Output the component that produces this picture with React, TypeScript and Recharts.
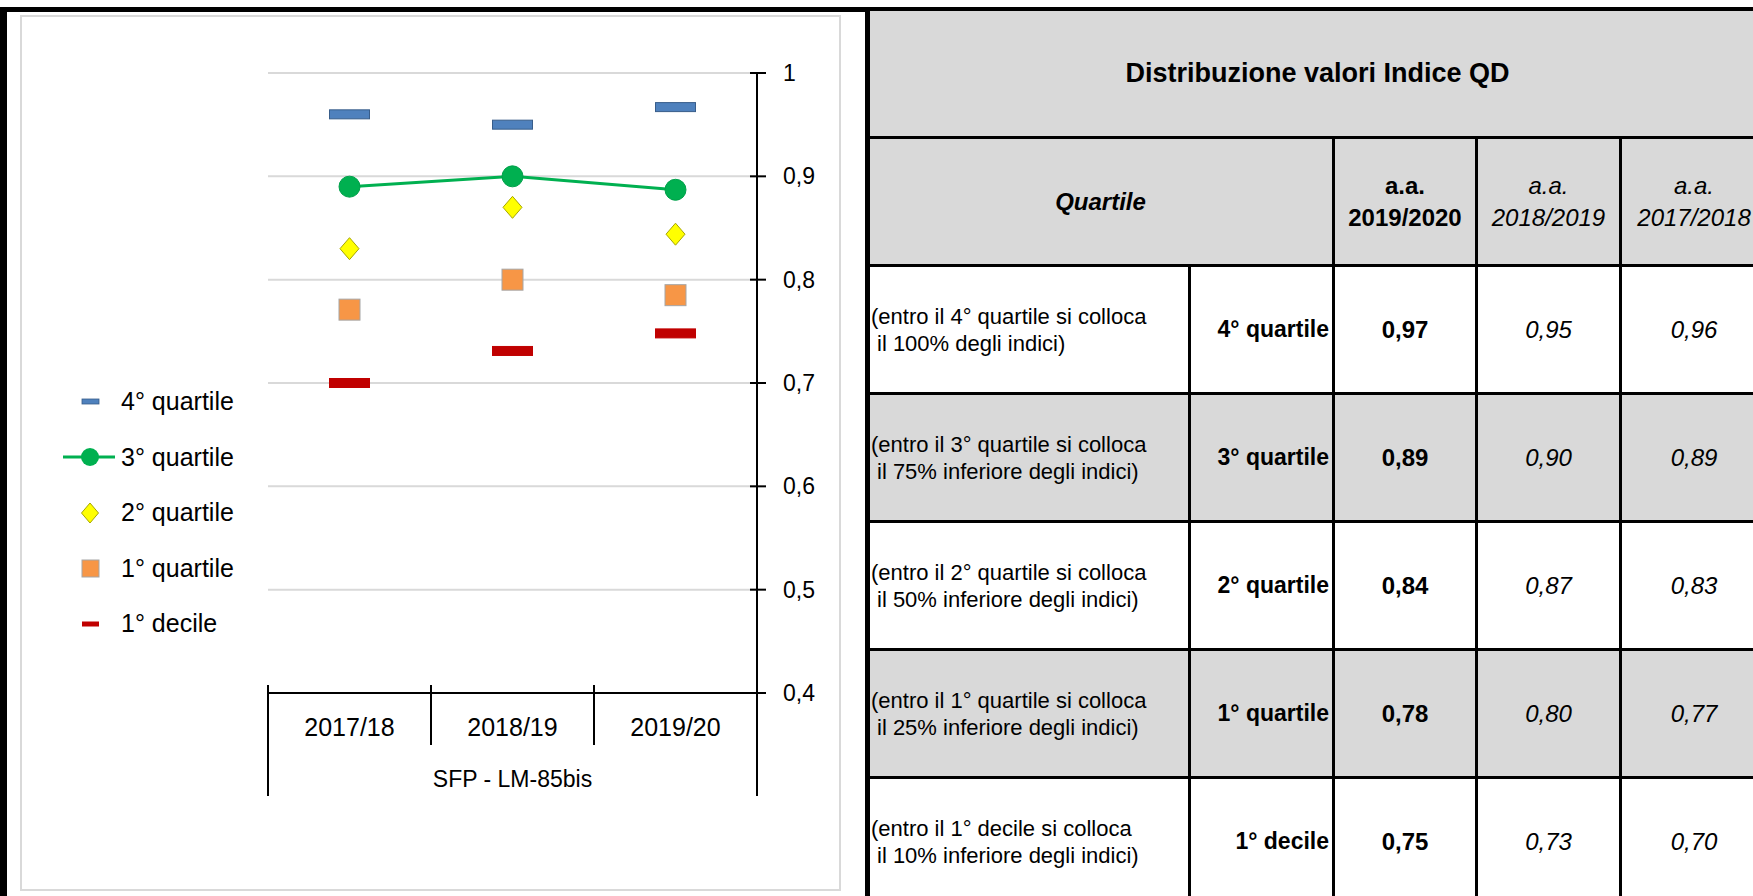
import React from 'react';
import { ComposedChart, Line, XAxis, YAxis, CartesianGrid, Legend } from 'recharts';

const FONT = "'Liberation Sans', Arial, sans-serif";

// chart data
const categories = ['2017/18', '2018/19', '2019/20'];
const quartile4 = [0.96, 0.95, 0.967];
const quartile3 = [0.89, 0.9, 0.887];
const quartile2 = [0.83, 0.87, 0.844];
const quartile1 = [0.771, 0.8, 0.785];
const decile1 = [0.7, 0.731, 0.748];
const yTicks = [0.4, 0.5, 0.6, 0.7, 0.8, 0.9, 1];
const groupLabel = 'SFP - LM-85bis';

// table data
const tableTitle = 'Distribuzione valori Indice QD';
const yearHeaders = ['2019/2020', '2018/2019', '2017/2018'];
const rowLabels = ['4° quartile', '3° quartile', '2° quartile', '1° quartile', '1° decile'];
const rowNotes = [
  ['(entro il 4° quartile si colloca', 'il 100% degli indici)'],
  ['(entro il 3° quartile si colloca', 'il 75% inferiore degli indici)'],
  ['(entro il 2° quartile si colloca', 'il 50% inferiore degli indici)'],
  ['(entro il 1° quartile si colloca', 'il 25% inferiore degli indici)'],
  ['(entro il 1° decile si colloca', 'il 10% inferiore degli indici)'],
];
const values1920 = [0.97, 0.89, 0.84, 0.78, 0.75];
const values1819 = [0.95, 0.9, 0.87, 0.8, 0.73];
const values1718 = [0.96, 0.89, 0.83, 0.77, 0.7];

const data = categories.map((year, i) => ({
  year,
  q4: quartile4[i],
  q3: quartile3[i],
  q2: quartile2[i],
  q1: quartile1[i],
  d1: decile1[i],
}));

const comma = (v: number, digits?: number) =>
  (digits != null ? v.toFixed(digits) : String(v)).replace('.', ',');

// chart box inside the grey frame
const CHART_W = 821;
const CHART_H = 876;
const MARGIN = { top: 58, right: 25, bottom: 88, left: 247 };

const dashDot = (fill: string, stroke: string) => (p: any) => {
  if (p.cx == null || p.cy == null) return <g key={`e-${p.index}`} />;
  return (
    <rect key={`${p.dataKey}-${p.index}`} x={p.cx - 20} y={p.cy - 4.5} width={40} height={9}
      fill={fill} stroke={stroke} strokeWidth={1} />
  );
};

const circleDot = (p: any) => {
  if (p.cx == null || p.cy == null) return <g key={`e-${p.index}`} />;
  return <circle key={`q3-${p.index}`} cx={p.cx} cy={p.cy} r={10.5} fill="#00B050" stroke="#00A04A" strokeWidth={1} />;
};

const diamondDot = (p: any) => {
  if (p.cx == null || p.cy == null) return <g key={`e-${p.index}`} />;
  const { cx, cy } = p;
  return (
    <path key={`q2-${p.index}`} d={`M${cx},${cy - 11} L${cx + 9.5},${cy} L${cx},${cy + 11} L${cx - 9.5},${cy} Z`}
      fill="#FFFF00" stroke="#A6A600" strokeWidth={1} />
  );
};

const squareDot = (p: any) => {
  if (p.cx == null || p.cy == null) return <g key={`e-${p.index}`} />;
  return (
    <rect key={`q1-${p.index}`} x={p.cx - 10.5} y={p.cy - 10.5} width={21} height={21}
      fill="#F79646" stroke="#A6A6A6" strokeWidth={1} />
  );
};

const series = [
  { key: 'q4', name: '4° quartile' },
  { key: 'q3', name: '3° quartile' },
  { key: 'q2', name: '2° quartile' },
  { key: 'q1', name: '1° quartile' },
  { key: 'd1', name: '1° decile' },
];

const legendMarker = (key: string) => {
  switch (key) {
    case 'q4':
      return <rect x={21} y={12} width={17} height={5} fill="#4F81BD" stroke="#385D8A" strokeWidth={0.8} />;
    case 'q3':
      return (
        <g>
          <line x1={2} x2={54} y1={15} y2={15} stroke="#00B050" strokeWidth={3} />
          <circle cx={29} cy={15} r={9} fill="#00B050" />
        </g>
      );
    case 'q2':
      return <path d="M29,5 L37.5,15 L29,25 L20.5,15 Z" fill="#FFFF00" stroke="#A6A600" strokeWidth={1} />;
    case 'q1':
      return <rect x={21} y={7} width={17} height={17} fill="#F79646" stroke="#A6A6A6" strokeWidth={1} />;
    default:
      return <rect x={21} y={12.5} width={17} height={5} fill="#C00000" />;
  }
};

const LegendBox = () => (
  <div style={{ fontFamily: FONT, fontSize: 25, color: '#000' }}>
    {series.map((s) => (
      <div key={s.key} style={{ height: 55.5, display: 'flex', alignItems: 'center' }}>
        <svg width={60} height={30} style={{ flex: 'none' }}>{legendMarker(s.key)}</svg>
        <span style={{ whiteSpace: 'nowrap' }}>{s.name}</span>
      </div>
    ))}
  </div>
);

const XTick = (props: any) => {
  const { x, y, payload, index, width, visibleTicksCount } = props;
  const count = visibleTicksCount || categories.length;
  const bw = payload && payload.offset > 0 ? payload.offset * 2 : width / count;
  const left = x - bw / 2;
  const right = x + bw / 2;
  const center = x + (count / 2 - index - 0.5) * bw;
  return (
    <g>
      <line x1={left} x2={left} y1={y - 8} y2={y + (index === 0 ? 103 : 52)} stroke="#000" strokeWidth={2} />
      {index === count - 1 && (
        <line x1={right} x2={right} y1={y - 8} y2={y + 103} stroke="#000" strokeWidth={2} />
      )}
      <text x={x} y={y + 34} textAnchor="middle" dominantBaseline="central" fontSize={25} fill="#000" fontFamily={FONT}>
        {payload.value}
      </text>
      {index === 0 && (
        <text x={center} y={y + 86} textAnchor="middle" dominantBaseline="central" fontSize={23} fill="#000" fontFamily={FONT}>
          {groupLabel}
        </text>
      )}
    </g>
  );
};

const YTick = (props: any) => {
  const { x, y, payload } = props;
  return (
    <g>
      <line x1={x - 7} x2={x + 9} y1={y} y2={y} stroke="#000" strokeWidth={2} />
      <text x={x + 26} y={y} dominantBaseline="central" fontSize={23} fill="#000" fontFamily={FONT}>
        {comma(payload.value)}
      </text>
    </g>
  );
};

const Chart = () => (
  <ComposedChart width={CHART_W} height={CHART_H} data={data} margin={MARGIN}>
    <CartesianGrid vertical={false} stroke="#D9D9D9" strokeWidth={2} />
    <XAxis dataKey="year" scale="band" interval={0} tickLine={false} tickSize={0} tickMargin={0}
      axisLine={{ stroke: '#000', strokeWidth: 2 }} height={110} tick={<XTick />} />
    <YAxis orientation="right" domain={[0.4, 1]} ticks={yTicks} interval={0} tickLine={false} tickSize={0}
      tickMargin={0} width={60} axisLine={{ stroke: '#000', strokeWidth: 2 }} tick={<YTick />} />
    <Legend layout="vertical" align="center" verticalAlign="middle" content={() => <LegendBox />}
      wrapperStyle={{ left: 40, top: 359, width: 220, height: 280 }} />
    <Line dataKey="q4" name="4° quartile" stroke="none" dot={dashDot('#4F81BD', '#385D8A')} activeDot={false} isAnimationActive={false} />
    <Line dataKey="q3" name="3° quartile" stroke="#00B050" strokeWidth={3} dot={circleDot} activeDot={false} isAnimationActive={false} />
    <Line dataKey="q2" name="2° quartile" stroke="none" dot={diamondDot} activeDot={false} isAnimationActive={false} />
    <Line dataKey="q1" name="1° quartile" stroke="none" dot={squareDot} activeDot={false} isAnimationActive={false} />
    <Line dataKey="d1" name="1° decile" stroke="none" dot={dashDot('#C00000', '#C00000')} activeDot={false} isAnimationActive={false} />
  </ComposedChart>
);

const GREY = '#D9D9D9';
const border = '3px solid #000';
const cell: React.CSSProperties = { border, padding: 0, textAlign: 'center', verticalAlign: 'middle', fontSize: 22 };

const QdTable = () => (
  <table style={{ position: 'absolute', left: 866, top: 8, borderCollapse: 'collapse', tableLayout: 'fixed',
    width: 900, fontFamily: FONT, color: '#000' }}>
    <colgroup>
      <col style={{ width: 322 }} />
      <col style={{ width: 144 }} />
      <col style={{ width: 143 }} />
      <col style={{ width: 144 }} />
      <col style={{ width: 147 }} />
    </colgroup>
    <tbody>
      <tr style={{ height: 128 }}>
        <td colSpan={5} style={{ ...cell, background: GREY, fontWeight: 'bold', fontSize: 27 }}>{tableTitle}</td>
      </tr>
      <tr style={{ height: 128 }}>
        <td colSpan={2} style={{ ...cell, background: GREY, fontWeight: 'bold', fontStyle: 'italic', fontSize: 24 }}>Quartile</td>
        {yearHeaders.map((y, i) => (
          <td key={y} style={{ ...cell, background: GREY, lineHeight: '32px', fontSize: 24,
            fontWeight: i === 0 ? 'bold' : 'normal', fontStyle: i === 0 ? 'normal' : 'italic' }}>
            a.a.<br />{y}
          </td>
        ))}
      </tr>
      {rowLabels.map((label, r) => {
        const bg = r % 2 === 1 ? GREY : '#fff';
        return (
          <tr key={label} style={{ height: 128 }}>
            <td style={{ ...cell, background: bg, textAlign: 'left', paddingLeft: 2, lineHeight: '27px' }}>
              <div style={{ whiteSpace: 'nowrap' }}>{rowNotes[r][0]}</div>
              <div style={{ whiteSpace: 'nowrap', paddingLeft: 6 }}>{rowNotes[r][1]}</div>
            </td>
            <td style={{ ...cell, background: bg, textAlign: 'right', paddingRight: 3, fontWeight: 'bold', fontSize: 23, whiteSpace: 'nowrap' }}>{label}</td>
            <td style={{ ...cell, background: bg, fontWeight: 'bold', fontSize: 24 }}>{comma(values1920[r], 2)}</td>
            <td style={{ ...cell, background: bg, fontStyle: 'italic', fontSize: 24 }}>{comma(values1819[r], 2)}</td>
            <td style={{ ...cell, background: bg, fontStyle: 'italic', fontSize: 24 }}>{comma(values1718[r], 2)}</td>
          </tr>
        );
      })}
    </tbody>
  </table>
);

export default function App() {
  return (
    <div style={{ position: 'absolute', left: 0, top: 0, width: 1753, height: 896, background: '#fff',
      overflow: 'hidden', fontFamily: FONT }}>
      <div style={{ position: 'absolute', left: 0, top: 7, width: 1753, height: 5, background: '#000' }} />
      <div style={{ position: 'absolute', left: 0, top: 7, width: 7, height: 889, background: '#000' }} />
      <div style={{ position: 'absolute', left: 20, top: 15, width: CHART_W, height: CHART_H,
        border: `2px solid ${GREY}`, boxSizing: 'border-box' }} />
      <div style={{ position: 'absolute', left: 21, top: 15 }}>
        <Chart />
      </div>
      <QdTable />
      <div style={{ position: 'absolute', left: 865, top: 7, width: 5, height: 889, background: '#000' }} />
    </div>
  );
}
